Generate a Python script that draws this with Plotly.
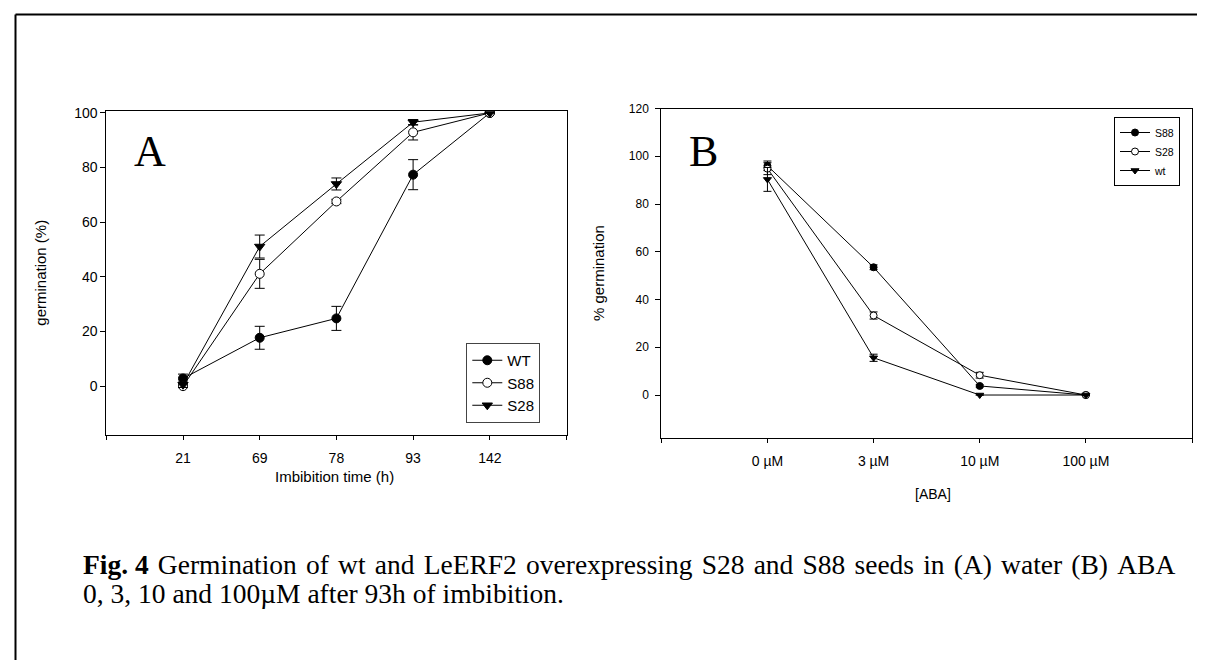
import plotly.graph_objects as go

W, H = 1205, 660

# ---- Panel A data: germination (%) vs imbibition time ----
a_times = ["21", "69", "78", "93", "142"]
a_wt = [2.8, 17.7, 24.8, 77.4, 100]
a_wt_err = [1.6, 4.2, 4.4, 5.5, 0]
a_s88 = [0, 41.1, 67.6, 92.9, 100]
a_s88_err = [0.5, 5.3, 0.8, 2.8, 0]
a_s28 = [0.5, 51.1, 74.0, 96.6, 100]
a_s28_err = [1.0, 4.2, 2.2, 1.0, 0]

# ---- Panel B data: % germination vs ABA ----
b_doses = ["0 µM", "3 µM", "10 µM", "100 µM"]
b_s88 = [96.0, 53.5, 3.8, 0]
b_s88_err = [2.0, 1.0, 0.5, 0]
b_s28 = [94.8, 33.3, 8.3, 0]
b_s28_err = [2.5, 1.5, 1.2, 0]
b_wt = [90.3, 15.6, 0, 0]
b_wt_err = [5.0, 1.5, 0, 0]

a_x = list(range(1, len(a_times) + 1))
b_x = list(range(1, len(b_doses) + 1))

SANS = "Liberation Sans, Arial, sans-serif"
NARROW = "Liberation Sans Narrow, Arial Narrow, Liberation Sans, Arial, sans-serif"
SERIF = "Liberation Serif, Times New Roman, serif"

fig = go.Figure()


def add(x, y, err, name, symbol, fill, size, xa, ya, legend, capw):
    fig.add_trace(go.Scatter(
        x=x, y=y, name=name, mode="lines+markers",
        xaxis=xa, yaxis=ya, legend=legend,
        line=dict(color="black", width=1),
        marker=dict(symbol=symbol, size=size, color=fill,
                    line=dict(color="black", width=1)),
        error_y=dict(type="data", array=err, visible=True,
                     color="black", thickness=1, width=capw),
    ))


add(a_x, a_wt, a_wt_err, "WT", "circle", "black", 9, "x", "y", "legend", 5)
add(a_x, a_s88, a_s88_err, "S88", "circle", "white", 9, "x", "y", "legend", 5)
add(a_x, a_s28, a_s28_err, "S28", "triangle-down", "black", 9, "x", "y", "legend", 5)

add(b_x, b_s88, b_s88_err, "S88", "circle", "black", 7, "x2", "y2", "legend2", 4)
add(b_x, b_s28, b_s28_err, "S28", "circle", "white", 7, "x2", "y2", "legend2", 4)
add(b_x, b_wt, b_wt_err, "wt", "triangle-down", "black", 7, "x2", "y2", "legend2", 4)

axis_common = dict(showgrid=False, zeroline=False, showline=True,
                   linecolor="black", linewidth=1, mirror=True,
                   ticks="outside", tickcolor="black", tickwidth=1,
                   automargin=False, fixedrange=True)

fig.update_layout(
    width=W, height=H, autosize=False,
    margin=dict(l=0, r=0, t=0, b=0),
    paper_bgcolor="white", plot_bgcolor="white",
    font=dict(family=SANS, color="black"),
    xaxis=dict(axis_common, domain=[98.3 / W, 558.5 / W], range=[0, 6],
               tickvals=[0] + a_x + [len(a_times) + 1],
               ticktext=[""] + a_times + [""],
               ticklen=4, ticklabelstandoff=6,
               tickfont=dict(size=14, family=SANS), anchor="y"),
    yaxis=dict(axis_common, domain=[(H - 427.3) / H, (H - 103.3) / H],
               range=[-18, 100.6], tickvals=[0, 20, 40, 60, 80, 100],
               ticklen=5, tickfont=dict(size=14, family=SANS), anchor="x"),
    xaxis2=dict(axis_common, domain=[653.3 / W, 1184 / W], range=[0, 5],
                tickvals=[0] + b_x + [len(b_doses) + 1],
                ticktext=[""] + b_doses + [""],
                ticklen=4, ticklabelstandoff=6,
                tickfont=dict(size=14, family=NARROW), anchor="y2"),
    yaxis2=dict(axis_common, domain=[(H - 430) / H, (H - 100.5) / H],
                range=[-18, 120], tickvals=[0, 20, 40, 60, 80, 100, 120],
                ticklen=5, ticklabelstandoff=4,
                tickfont=dict(size=12, family=SANS), anchor="x2"),
    legend=dict(x=458.3 / W, y=1 - 335 / H, xanchor="left", yanchor="top",
                bgcolor="white", bordercolor="#444", borderwidth=1,
                font=dict(size=15, family=SANS), tracegroupgap=0),
    legend2=dict(x=1106 / W, y=1 - 109 / H, xanchor="left", yanchor="top",
                 bgcolor="white", bordercolor="black", borderwidth=1,
                 font=dict(size=10.5, family=NARROW), tracegroupgap=0),
    showlegend=True,
)

caption1 = ("<b>Fig. 4</b> Germination of wt and LeERF2 overexpressing "
            "S28 and S88 seeds in (A) water (B) ABA")
# slightly widen word gaps (the printed caption line is justified)
caption1 = caption1.replace(" ", " \u200a").replace("<b>Fig. \u200a4</b>", "<b>Fig. 4</b>")
caption2 = "0, 3, 10 and 100µM after 93h of imbibition."

ann = []
# panel letters
ann.append(dict(text="A", x=124 / W, y=1 - 143 / H, xanchor="left", yanchor="middle",
                font=dict(size=44, family=SERIF)))
ann.append(dict(text="B", x=679 / W, y=1 - 143 / H, xanchor="left", yanchor="middle",
                font=dict(size=44, family=SERIF)))
# axis titles
ann.append(dict(text="germination (%)", x=31.7 / W, y=1 - 265 / H, textangle=-90,
                xanchor="center", yanchor="middle", font=dict(size=15, family=SANS)))
ann.append(dict(text="Imbibition time (h)", x=326 / W, y=1 - 468 / H,
                xanchor="center", yanchor="middle", font=dict(size=15, family=SANS)))
ann.append(dict(text="% germination", x=590 / W, y=1 - 265 / H, textangle=-90,
                xanchor="center", yanchor="middle", font=dict(size=15, family=SANS)))
ann.append(dict(text="[ABA]", x=925 / W, y=1 - 486 / H,
                xanchor="center", yanchor="middle", font=dict(size=14, family=NARROW)))
# caption
ann.append(dict(text=caption1, x=72.7 / W, y=1 - 556 / H, xanchor="left", yanchor="middle",
                font=dict(size=27.5, family=SERIF)))
ann.append(dict(text=caption2, x=72.7 / W, y=1 - 585 / H, xanchor="left", yanchor="middle",
                font=dict(size=27.5, family=SERIF)))
for a in ann:
    a.update(xref="paper", yref="paper", showarrow=False)
fig.update_layout(annotations=ann)

# outer frame (left and top border lines of the figure page)
fig.update_layout(shapes=[
    dict(type="line", xref="paper", yref="paper", x0=7.5 / W, x1=7.5 / W,
         y0=0, y1=1 - 6.5 / H, line=dict(color="black", width=2)),
    dict(type="line", xref="paper", yref="paper", x0=7.5 / W, x1=1,
         y0=1 - 6.5 / H, y1=1 - 6.5 / H, line=dict(color="black", width=2)),
])

fig.write_html("out.html")
